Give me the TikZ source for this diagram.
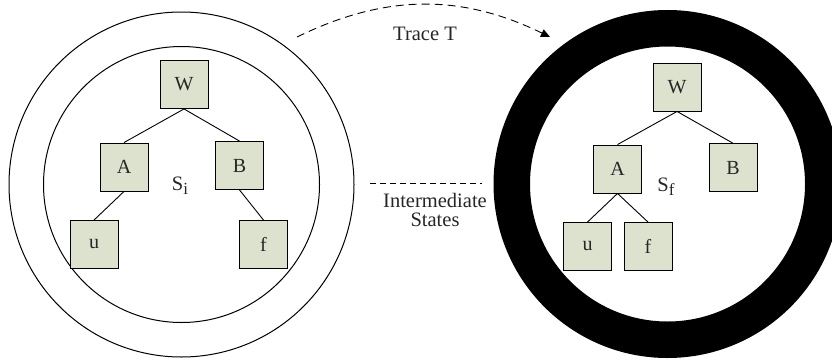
\documentclass[tikz,border=0pt]{standalone}
\usepackage{fontspec}
\setmainfont{Liberation Serif}
\usetikzlibrary{arrows.meta}
\definecolor{boxfill}{RGB}{221,226,207}
\begin{document}
\begin{tikzpicture}[x=1pt,y=-1pt,
  box/.style={draw=black, line width=0.9pt, fill=boxfill, minimum size=48pt, inner sep=0pt, text=black!85, font=\fontsize{20}{20}\selectfont},
  lbl/.style={text=black!85, font=\fontsize{20.5}{20.5}\selectfont},
  edge/.style={line width=0.9pt},
  ring/.style={line width=1pt}]
\useasboundingbox (0,0) rectangle (832,359);
\coordinate (cL) at (181.5,184.5);
\coordinate (cR) at (667.5,184);
\draw[ring] (cL) circle[radius=172.5pt];
\draw[ring] (cL) circle[radius=138pt];
\draw[line width=36.5pt] (cR) circle[radius=155.75pt];
% left tree
\node[box] (LW) at (184,84.5) {W};
\node[box] (LA) at (124,167) {A};
\node[box] (LB) at (239.5,165.5) {B};
\node[box] (Lu) at (94,244.5) {u};
\node[box] (Lf) at (263.5,244.5) {f};
\node[lbl] (Si) at (180,186) {S\raisebox{-4pt}{\fontsize{17}{17}\selectfont i}};
\draw[edge] (LW.south) -- (LA.north);
\draw[edge] (LW.south) -- (LB.north);
\draw[edge] (LA.south) -- (Lu.north);
\draw[edge] (LB.south) -- (Lf.north);
% right tree
\node[box] (RW) at (677,87) {W};
\node[box] (RA) at (617.5,169) {A};
\node[box] (RB) at (733,167.7) {B};
\node[box] (Ru) at (587.5,246.5) {u};
\node[box] (Rf) at (648,246.5) {f};
\node[lbl] (Sf) at (666,187) {S\raisebox{-4pt}{\fontsize{17}{17}\selectfont f}};
\draw[edge] (RW.south) -- (RA.north);
\draw[edge] (RW.south) -- (RB.north);
\draw[edge] (RA.south) -- (Ru.north);
\draw[edge] (RA.south) -- (Rf.north);
% trace
\coordinate (t1) at (297,37);
\coordinate (t2) at (550,37);
\draw[line width=0.9pt, dash pattern=on 8pt off 5pt, -{Triangle[length=9pt,width=8pt]}] (t1) to[bend left=26] (t2);
\node[lbl] (trace) at (425,34) {Trace T};
% intermediate
\coordinate (i1) at (370,183.5);
\coordinate (i2) at (482,183.5);
\draw[line width=0.9pt, dash pattern=on 6pt off 4pt] (i1) -- (i2);
\node[lbl, align=center, font=\fontsize{20.5}{18.5}\selectfont] (inter) at (435,210) {Intermediate\\States};
\end{tikzpicture}
\end{document}
